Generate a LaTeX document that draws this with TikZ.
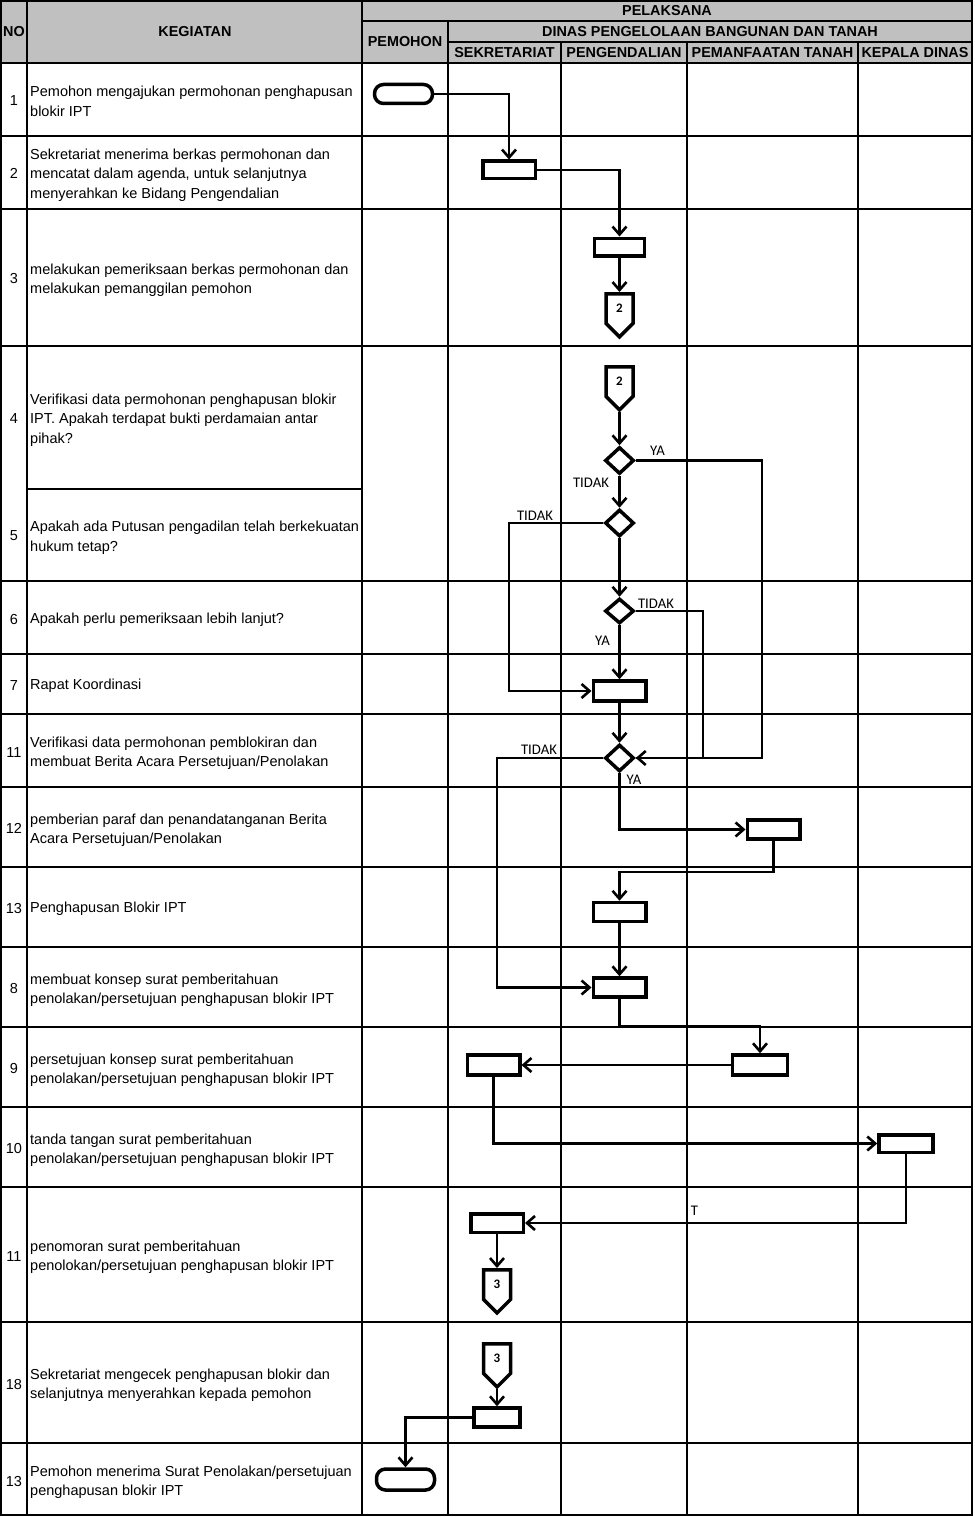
\documentclass[tikz,border=0pt]{standalone}
\usepackage{fontspec}
\setmainfont{Liberation Sans}
\newfontfamily\lblfont{Carlito}
\usetikzlibrary{arrows.meta,shapes.geometric,shapes.symbols}

\definecolor{hdrgray}{RGB}{192,192,192}

\tikzset{
  grid/.style={line width=1.6pt},
  hdr/.style={inner sep=0pt,font=\bfseries\fontsize{14.4}{16}\selectfont},
  num/.style={inner sep=0pt,font=\fontsize{14.5}{19.5}\selectfont},
  txt/.style={anchor=west,align=left,inner sep=0pt,font=\fontsize{14.5}{19.5}\selectfont},
  lbl/.style={inner sep=0pt,font=\lblfont\fontsize{14.7}{15}\selectfont},
  box/.style={draw,line width=3.5pt,inner sep=0pt,minimum width=52.5pt,minimum height=17.5pt},
  term/.style={draw,line width=3.5pt,inner sep=0pt,rounded corners=9pt,minimum width=58pt,minimum height=19pt},
  dec/.style={draw,diamond,line width=3.5pt,inner sep=0pt,minimum width=29pt,minimum height=27pt},
  ofp/.style={draw,signal,signal to=south,signal pointer angle=90,line width=3.5pt,inner sep=0pt,
    minimum width=27pt,minimum height=33pt,anchor=north,font=\lblfont\bfseries\fontsize{13}{13}\selectfont},
  flow/.style={line width=2.6pt,-{Straight Barb[length=8pt,width=14pt]}},
  link/.style={line width=2.6pt}
}

\begin{document}
\begin{tikzpicture}[x=1pt,y=-1pt]
\useasboundingbox (0,0) rectangle (974,1517);

% header
\fill[hdrgray] (1,1) rectangle (972,63);
\draw[grid] (1,1) rectangle (972,1515);
\draw[grid] (362,21) -- (972,21);
\draw[grid] (448,42) -- (972,42);
\draw[line width=2.4pt] (1,63) -- (972,63);
\draw[grid] (27,1) -- (27,1515);
\draw[grid] (362,1) -- (362,1515);
\draw[grid] (448,21) -- (448,1515);
\draw[grid] (561,42) -- (561,1515);
\draw[grid] (687,42) -- (687,1515);
\draw[grid] (858,42) -- (858,1515);

\node[hdr] (hNo) at (14,31.5) {NO};
\node[hdr] (hKeg) at (195,31.5) {KEGIATAN};
\node[hdr] (hPel) at (667,10.5) {PELAKSANA};
\node[hdr] (hPem) at (405,42) {PEMOHON};
\node[hdr] (hDinas) at (710,31.5) {DINAS PENGELOLAAN BANGUNAN DAN TANAH};
\node[hdr] (hSek) at (504.5,52.5) {SEKRETARIAT};
\node[hdr] (hPeng) at (624,52.5) {PENGENDALIAN};
\node[hdr] (hPeman) at (772.5,52.5) {PEMANFAATAN TANAH};
\node[hdr] (hKep) at (915,52.5) {KEPALA DINAS};

% row lines
\draw[grid] (1,136) -- (972,136);
\draw[grid] (1,209) -- (972,209);
\draw[grid] (1,346) -- (972,346);
\draw[grid] (27,489) -- (362,489);
\draw[grid] (1,581) -- (972,581);
\draw[grid] (1,654) -- (972,654);
\draw[grid] (1,714) -- (972,714);
\draw[grid] (1,787) -- (972,787);
\draw[grid] (1,867) -- (972,867);
\draw[grid] (1,947) -- (972,947);
\draw[grid] (1,1027) -- (972,1027);
\draw[grid] (1,1107) -- (972,1107);
\draw[grid] (1,1187) -- (972,1187);
\draw[grid] (1,1322) -- (972,1322);
\draw[grid] (1,1443) -- (972,1443);

% numbers and activities
\node[num] (no1) at (14,100.5) {1};
\node[txt] (keg1) at (30,101.5) {Pemohon mengajukan permohonan penghapusan\\blokir IPT};
\node[num] (no2) at (14,173.5) {2};
\node[txt] (keg2) at (30,175) {Sekretariat menerima berkas permohonan dan\\mencatat dalam agenda, untuk selanjutnya\\menyerahkan ke Bidang Pengendalian};
\node[num] (no3) at (14,278.5) {3};
\node[txt] (keg3) at (30,280) {melakukan pemeriksaan berkas permohonan dan\\melakukan pemanggilan pemohon};
\node[num] (no4) at (14,419) {4};
\node[txt] (keg4) at (30,420) {Verifikasi data permohonan penghapusan blokir\\IPT. Apakah terdapat bukti perdamaian antar\\pihak?};
\node[num] (no5) at (14,536) {5};
\node[txt] (keg5) at (30,537.5) {Apakah ada Putusan pengadilan telah berkekuatan\\hukum tetap?};
\node[num] (no6) at (14,619.5) {6};
\node[txt] (keg6) at (30,620) {Apakah perlu pemeriksaan lebih lanjut?};
\node[num] (no7) at (14,685.5) {7};
\node[txt] (keg7) at (30,686) {Rapat Koordinasi};
\node[num] (no8) at (14,752.5) {11};
\node[txt] (keg8) at (30,753) {Verifikasi data permohonan pemblokiran dan\\membuat Berita Acara Persetujuan/Penolakan};
\node[num] (no9) at (14,828.5) {12};
\node[txt] (keg9) at (30,830) {pemberian paraf dan penandatanganan Berita\\Acara Persetujuan/Penolakan};
\node[num] (no10) at (14,908.5) {13};
\node[txt] (keg10) at (30,909) {Penghapusan Blokir IPT};
\node[num] (no11) at (14,988.5) {8};
\node[txt] (keg11) at (30,990) {membuat konsep surat pemberitahuan\\penolakan/persetujuan penghapusan blokir IPT};
\node[num] (no12) at (14,1068.5) {9};
\node[txt] (keg12) at (30,1070) {persetujuan konsep surat pemberitahuan\\penolakan/persetujuan penghapusan blokir IPT};
\node[num] (no13) at (14,1148.5) {10};
\node[txt] (keg13) at (30,1150) {tanda tangan surat pemberitahuan\\penolakan/persetujuan penghapusan blokir IPT};
\node[num] (no14) at (14,1256) {11};
\node[txt] (keg14) at (30,1257) {penomoran surat pemberitahuan\\penolokan/persetujuan penghapusan blokir IPT};
\node[num] (no15) at (14,1384) {18};
\node[txt] (keg15) at (30,1385) {Sekretariat mengecek penghapusan blokir dan\\selanjutnya menyerahkan kepada pemohon};
\node[num] (no16) at (14,1481) {13};
\node[txt] (keg16) at (30,1482) {Pemohon menerima Surat Penolakan/persetujuan\\penghapusan blokir IPT};

% flow shapes
\node[term] (t1) at (403.5,94) {};
\node[box] (b2) at (509,170) {};
\node[box,minimum width=50pt] (b3) at (619.5,247) {};
\node[ofp] (c2a) at (619.5,292) {2};
\node[ofp] (c2b) at (619.5,365) {2};
\node[dec] (d1) at (619.5,460.5) {};
\node[dec] (d2) at (619.5,523) {};
\node[dec,minimum height=25pt] (d3) at (619.5,611) {};
\node[box,minimum height=20pt] (b7) at (619.5,691) {};
\node[dec] (d4) at (619.5,758) {};
\node[box,minimum height=19pt] (b12) at (773.5,829.5) {};
\node[box,minimum height=19pt] (b13) at (619.5,912) {};
\node[box,minimum height=19pt] (b8) at (619.5,987.5) {};
\node[box,minimum width=55pt,minimum height=20pt] (b9b) at (760,1065) {};
\node[box,minimum height=20pt] (b9a) at (493.5,1065) {};
\node[box,minimum width=54pt] (b10) at (906,1143.5) {};
\node[box,minimum height=18.5pt] (b11) at (497,1223) {};
\node[ofp] (c3a) at (497,1268) {3};
\node[ofp] (c3b) at (497,1342) {3};
\node[box,minimum width=46pt,minimum height=19pt] (b18) at (497,1417.5) {};
\node[term,minimum height=21pt] (t2) at (405.5,1479.5) {};

% bends
\coordinate (ya1) at (762,600);
\coordinate (tk1) at (509,600);
\coordinate (tk2) at (703,700);
\coordinate (tk3) at (497,870);
\coordinate (k1) at (700,872);
\coordinate (k2) at (700,1026);

% connectors
\draw[flow] (t1.east) -| (b2.north);
\draw[flow] (b2.east) -| (b3.north);
\draw[flow] (b3.south) -- (c2a.north);
\draw[flow] (c2b.south) -- (d1.north);
\draw[flow] (d1.east) -| (ya1) |- (d4.east);
\draw[flow] (d1.south) -- (d2.north);
\draw[flow] (d2.west) -| (tk1) |- (b7.west);
\draw[flow] (d2.south) -- (d3.north);
\draw[link] (d3.east) -| (tk2) |- (d4.east);
\draw[flow] (d3.south) -- (b7.north);
\draw[flow] (b7.south) -- (d4.north);
\draw[flow] (d4.west) -| (tk3) |- (b8.west);
\draw[flow] (d4.south) |- (b12.west);
\draw[flow] (b12.south) |- (k1) -| (b13.north);
\draw[flow] (b13.south) -- (b8.north);
\draw[flow] (b8.south) |- (k2) -| (b9b.north);
\draw[flow] (b9b.west) -- (b9a.east);
\draw[flow] (b9a.south) |- (b10.west);
\draw[flow] (b10.south) |- (b11.east);
\draw[flow] (b11.south) -- (c3a.north);
\draw[flow] (c3b.south) -- (b18.north);
\draw[flow] (b18.west) -| (t2.north);

% branch labels
\node[lbl] (ya1l) at (657.5,451) {YA};
\node[lbl] (tk1l) at (591,483) {TIDAK};
\node[lbl] (tk2l) at (535,515.5) {TIDAK};
\node[lbl] (tk3l) at (656,603.5) {TIDAK};
\node[lbl] (ya2l) at (602.5,640.5) {YA};
\node[lbl] (tk4l) at (539,749.5) {TIDAK};
\node[lbl] (ya3l) at (634,779.5) {YA};
\node[lbl] (tl) at (694.5,1210.5) {T};
\end{tikzpicture}
\end{document}
